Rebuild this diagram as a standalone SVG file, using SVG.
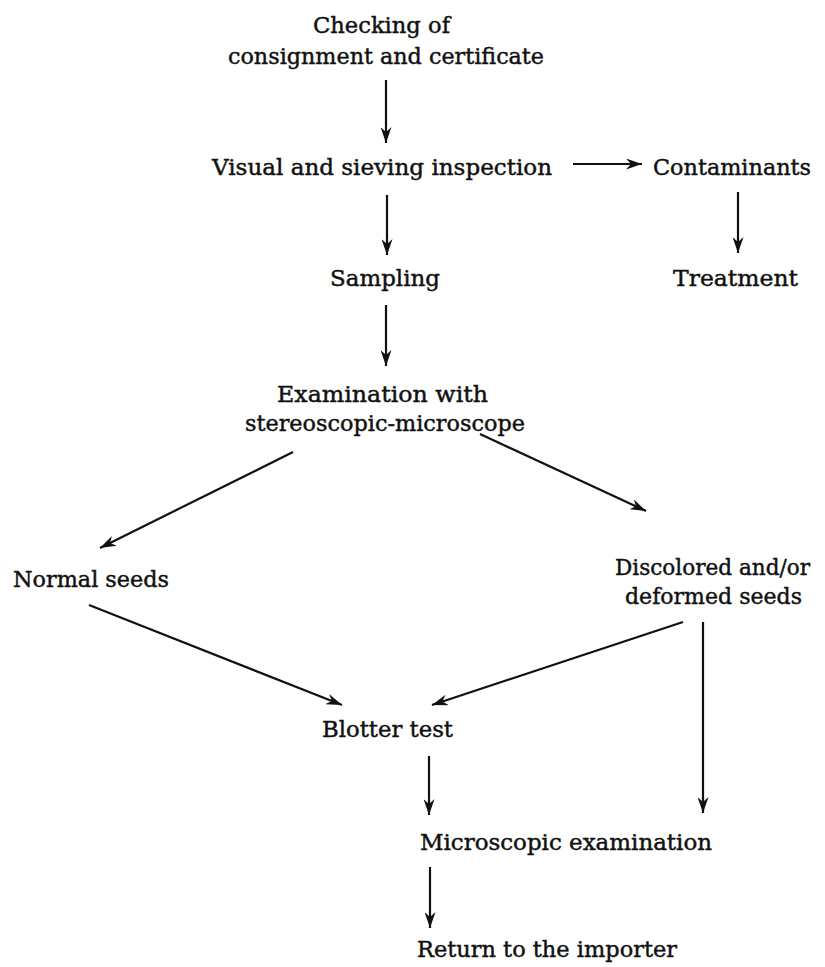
<svg xmlns="http://www.w3.org/2000/svg" width="825" height="967" viewBox="0 0 825 967">
<style>
  text { font-family: "DejaVu Serif", "Liberation Serif", serif; font-size: 23px; fill: #111; stroke: #111; stroke-width: 0.45px; }
  .c { stroke: #111; stroke-width: 2.2; fill: none; marker-end: url(#ah); }
</style>
<defs>
  <marker id="ah" markerUnits="userSpaceOnUse" markerWidth="16" markerHeight="11" viewBox="0 0 16 11" refX="16" refY="5.5" orient="auto">
    <path d="M0,0 L16,5.5 L0,11 L5,5.5 z" fill="#111"/>
  </marker>
</defs>
<rect width="825" height="967" fill="#fff"/>
<g id="n-checking">
  <text x="313" y="33" textLength="137" lengthAdjust="spacingAndGlyphs">Checking of</text>
  <text x="228" y="64" textLength="316" lengthAdjust="spacingAndGlyphs">consignment and certificate</text>
</g>
<g id="n-visual">
  <text x="212" y="175" textLength="340" lengthAdjust="spacingAndGlyphs">Visual and sieving inspection</text>
</g>
<g id="n-contaminants">
  <text x="653" y="175" textLength="158" lengthAdjust="spacingAndGlyphs">Contaminants</text>
</g>
<g id="n-treatment">
  <text x="673" y="286" textLength="125" lengthAdjust="spacingAndGlyphs">Treatment</text>
</g>
<g id="n-sampling">
  <text x="330" y="286" textLength="110" lengthAdjust="spacingAndGlyphs">Sampling</text>
</g>
<g id="n-examination">
  <text x="277" y="402" textLength="211" lengthAdjust="spacingAndGlyphs">Examination with</text>
  <text x="245" y="431" textLength="280" lengthAdjust="spacingAndGlyphs">stereoscopic-microscope</text>
</g>
<g id="n-normal">
  <text x="13" y="587" textLength="156" lengthAdjust="spacingAndGlyphs">Normal seeds</text>
</g>
<g id="n-discolored">
  <text x="615" y="575" textLength="195" lengthAdjust="spacingAndGlyphs">Discolored and/or</text>
  <text x="625" y="604" textLength="177" lengthAdjust="spacingAndGlyphs">deformed seeds</text>
</g>
<g id="n-blotter">
  <text x="322" y="737" textLength="131" lengthAdjust="spacingAndGlyphs">Blotter test</text>
</g>
<g id="n-microscopic">
  <text x="420" y="850" textLength="292" lengthAdjust="spacingAndGlyphs">Microscopic examination</text>
</g>
<g id="n-return">
  <text x="417" y="957" textLength="260" lengthAdjust="spacingAndGlyphs">Return to the importer</text>
</g>
<g id="connectors">
  <line class="c" x1="386" y1="80" x2="386" y2="143"/>
  <line class="c" x1="573" y1="164" x2="642" y2="164"/>
  <line class="c" x1="738" y1="192" x2="738" y2="253"/>
  <line class="c" x1="387" y1="195" x2="387" y2="255"/>
  <line class="c" x1="386" y1="305" x2="386" y2="366"/>
  <line class="c" x1="293" y1="452" x2="100" y2="548"/>
  <line class="c" x1="480" y1="434" x2="646" y2="511"/>
  <line class="c" x1="89" y1="605" x2="342" y2="705"/>
  <line class="c" x1="683" y1="622" x2="432" y2="705"/>
  <line class="c" x1="703" y1="622" x2="703" y2="813"/>
  <line class="c" x1="429" y1="756" x2="429" y2="815"/>
  <line class="c" x1="430" y1="867" x2="430" y2="928"/>
</g>
</svg>
